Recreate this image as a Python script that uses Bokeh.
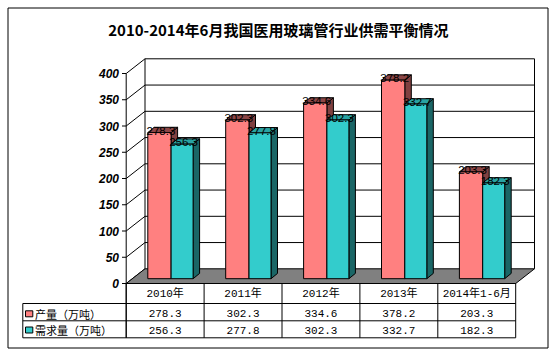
from bokeh.plotting import figure
from bokeh.models import Range1d, ColumnDataSource
from bokeh.core.properties import value
from bokeh.embed import file_html
from bokeh.resources import INLINE

# ---------------- data ----------------
categories = ["2010年", "2011年", "2012年", "2013年", "2014年1-6月"]
production = [278.3, 302.3, 334.6, 378.2, 203.3]
demand = [256.3, 277.8, 302.3, 332.7, 182.3]
series_names = ["产量（万吨）", "需求量（万吨）"]
y_ticks = [0, 50, 100, 150, 200, 250, 300, 350, 400]
title_text = "2010-2014年6月我国医用玻璃管行业供需平衡情况"

# ---------------- layout (pixels) ----------------
W, H = 553, 354
Y0 = 283.0        # pixel row of value 0 on the front plane
S = 0.525         # pixels per value unit
AX = 125.7        # front axis x
CW = 77.9         # category width
DX, DY = 18.8, 14.7   # wall depth offset
FX, FY = 5.5, 4.8     # bar front offset from front plane
BX, BY = 6.5, 5.3     # bar depth
GAP = 16.1
RW, TW = 23.3, 22.0   # bar widths

RED, RED_TOP, RED_SIDE = "#FF8080", "#8C4646", "#804040"
TEAL, TEAL_TOP, TEAL_SIDE = "#33CCCC", "#29A3A3", "#1A6666"


def vy(py):
    """pixel row -> value units"""
    return (Y0 - py) / S


def dv(px):
    return px / S


p = figure(width=W, height=H, output_backend="svg", toolbar_location=None,
           x_range=Range1d(0, W), y_range=Range1d(vy(H), vy(0)),
           min_border=0, min_border_left=0, min_border_right=0,
           min_border_top=0, min_border_bottom=0)
p.axis.visible = False
p.grid.visible = False
p.outline_line_color = None
p.background_fill_color = "white"
p.border_fill_color = "white"

n = len(categories)
right = AX + n * CW
wall_dy = dv(DY)

# outer border
p.quad(left=[7.5], right=[547.5], bottom=[vy(347.5)], top=[vy(7.5)],
       fill_color=None, line_color="black", line_width=1)

# title
p.text(x=[277.8], y=[vy(29)], text=[title_text], text_align="center",
       text_baseline="middle", text_font=value("Noto Sans CJK SC"),
       text_font_size="15px", text_font_style="bold", text_color="black")

# left wall diagonals and back wall grid lines
p.segment(x0=[AX] * len(y_ticks), y0=y_ticks,
          x1=[AX + DX] * len(y_ticks), y1=[t + wall_dy for t in y_ticks],
          line_color="black", line_width=1)
grid_vals = [t for t in y_ticks if t > 0]
p.segment(x0=[AX + DX] * len(grid_vals), y0=[t + wall_dy for t in grid_vals],
          x1=[right + DX] * len(grid_vals), y1=[t + wall_dy for t in grid_vals],
          line_color="black", line_width=1)
p.segment(x0=[AX + DX, right + DX], y0=[wall_dy, wall_dy],
          x1=[AX + DX, right + DX], y1=[max(y_ticks) + wall_dy] * 2,
          line_color="black", line_width=1)

# floor
p.patch(x=[AX, right, right + DX, AX + DX], y=[0, 0, wall_dy, wall_dy],
        fill_color="#808080", line_color="black", line_width=1)

# axis line and ticks
p.segment(x0=[AX], y0=[vy(337.3)], x1=[AX], y1=[max(y_ticks)],
          line_color="black", line_width=1)
p.segment(x0=[121.5] * len(y_ticks), y0=y_ticks, x1=[AX] * len(y_ticks), y1=y_ticks,
          line_color="black", line_width=1)
p.text(x=[118.5] * len(y_ticks), y=y_ticks, text=[str(t) for t in y_ticks],
       text_align="right", text_baseline="middle",
       text_font=value("Liberation Sans"), text_font_size="12px",
       text_font_style="bold italic", text_color="black")


# bars
def bar_geometry(vals, offset, width):
    base = dv(FY)
    xl = [AX + i * CW + GAP + FX + offset for i in range(len(vals))]
    xr = [x + width for x in xl]
    tops = [base + v for v in vals]
    byv = dv(BY)
    side_xs = [[r, r + BX, r + BX, r] for r in xr]
    side_ys = [[base, base + byv, t + byv, t] for t in tops]
    top_xs = [[l, r, r + BX, l + BX] for l, r in zip(xl, xr)]
    top_ys = [[t, t, t + byv, t + byv] for t in tops]
    return xl, xr, base, tops, side_xs, side_ys, top_xs, top_ys


label_x, label_y, label_t = [], [], []
for vals, offset, width, cf, ct, cs in [
        (production, 0.0, RW, RED, RED_TOP, RED_SIDE),
        (demand, RW, TW, TEAL, TEAL_TOP, TEAL_SIDE)]:
    xl, xr, base, tops, sx, sy, tx, ty = bar_geometry(vals, offset, width)
    p.patches(xs=sx, ys=sy, fill_color=cs, line_color="black", line_width=1)
    p.patches(xs=tx, ys=ty, fill_color=ct, line_color="black", line_width=1)
    p.quad(left=xl, right=xr, bottom=[base] * len(vals), top=tops,
           fill_color=cf, line_color="black", line_width=1)
    for l, r, t, v in zip(xl, xr, tops, vals):
        label_x.append((l + r) / 2 + 1.5)
        label_y.append(t + dv(2))
        label_t.append(f"{v:.1f}")

p.text(x=label_x, y=label_y, text=label_t, text_align="center",
       text_baseline="alphabetic", text_font=value("Liberation Sans"),
       text_font_size="11.5px", text_color="black")

# data table
rows_py = [283.0, 303.0, 320.3, 337.3]
TL = 22.3
p.segment(x0=[AX, TL, TL, TL], y0=[vy(r) for r in rows_py],
          x1=[right] * 4, y1=[vy(r) for r in rows_py],
          line_color="black", line_width=1)
col_x = [AX + k * CW for k in range(n + 1)]
p.segment(x0=col_x, y0=[vy(283.0)] * len(col_x), x1=col_x,
          y1=[vy(337.3)] * len(col_x), line_color="black", line_width=1)
p.segment(x0=[TL], y0=[vy(303.0)], x1=[TL], y1=[vy(337.3)],
          line_color="black", line_width=1)

centers = [AX + (k + 0.5) * CW for k in range(n)]
p.text(x=centers, y=[vy(293.2)] * n, text=categories, text_align="center",
       text_baseline="middle", text_font=value("Liberation Mono, Noto Sans CJK SC"),
       text_font_size="11px", text_color="black")
p.text(x=centers, y=[vy(312.5)] * n, text=[f"{v:.1f}" for v in production],
       text_align="center", text_baseline="middle",
       text_font=value("Liberation Mono"), text_font_size="11px", text_color="black")
p.text(x=centers, y=[vy(329.5)] * n, text=[f"{v:.1f}" for v in demand],
       text_align="center", text_baseline="middle",
       text_font=value("Liberation Mono"), text_font_size="11px", text_color="black")

# legend keys in table
key_cy = [313.3, 329.5]
p.quad(left=[25.0, 25.0], right=[32.3, 32.3],
       bottom=[vy(c + 3) for c in key_cy], top=[vy(c - 3) for c in key_cy],
       fill_color=[RED, TEAL], line_color="black", line_width=1)
p.text(x=[34.5, 34.5], y=[vy(c) for c in key_cy], text=series_names,
       text_align="left", text_baseline="middle",
       text_font=value("Noto Sans CJK SC"), text_font_size="11px", text_color="black")

open("out.html", "w").write(file_html(p, INLINE))
